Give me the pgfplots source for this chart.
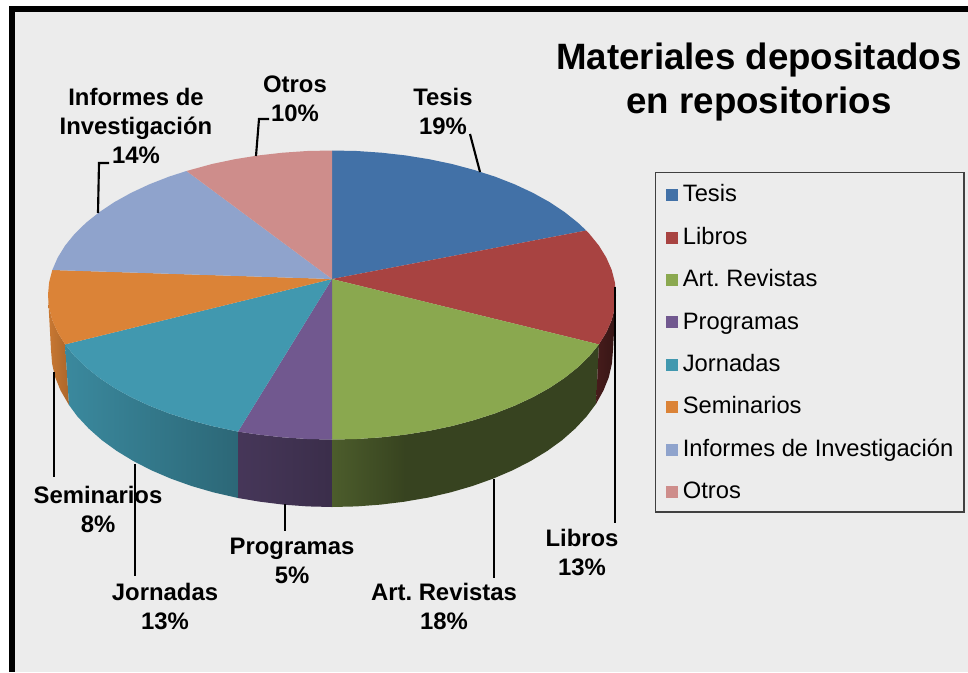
\documentclass[border=0pt]{standalone}
\usepackage{pgfplots}
\pgfplotsset{compat=1.18}
\usepackage{fontspec}
\setmainfont{Liberation Sans}
\frenchspacing
\definecolor{cTesis}{HTML}{4271A7}
\definecolor{cLibros}{HTML}{A84341}
\definecolor{cArt}{HTML}{8AA84F}
\definecolor{cProg}{HTML}{71588F}
\definecolor{cJorn}{HTML}{4198AF}
\definecolor{cSem}{HTML}{DB8337}
\definecolor{cInf}{HTML}{8FA3CC}
\definecolor{cOtros}{HTML}{CE8D8B}
\newcommand{\lab}[2]{\node[align=center,inner sep=0pt,font=\fontsize{17.9}{21.75}\selectfont\bfseries] at (axis cs:#1) {#2};}
\begin{document}
\begin{tikzpicture}
\begin{axis}[
  scale only axis, width=726pt, height=504pt,
  xmin=0, xmax=968, ymin=0, ymax=672, y dir=reverse,
  hide axis,
  legend style={at={(axis cs:655,172)}, anchor=north west, draw=black!75, line width=0.8pt, fill=none,
    inner xsep=8pt, inner ysep=6pt, row sep=11.8pt,
    nodes={font=\fontsize{17.8}{21}\selectfont, inner sep=0pt, anchor=base west, text height=16pt, text depth=4pt}},
  legend cell align=left,
  legend image code/.code={\fill[#1,draw=none] (0pt,0.5pt) rectangle (9pt,9.5pt); \path (12.5pt,0pt);},
]
% page, frame and paper
\addplot[fill=white,draw=none,forget plot] coordinates {(0,0)(968,0)(968,672)(0,672)} --cycle;
\addplot[fill=black,draw=none,forget plot] coordinates {(9,6)(968,6)(968,672)(9,672)} --cycle;
\addplot[fill=black!7.5,draw=none,forget plot] coordinates {(15,12)(968,12)(968,672)(15,672)} --cycle;
% side walls
\addplot[left color=cSem!92!black,right color=cSem!78!black,draw=none,forget plot] coordinates {(65.1,344.4)(57.7,332.4)(52.3,320.1)(49.1,307.6)(48,295)(51,350)(52.1,363.7)(55.2,377.3)(60.6,390.6)(69,405)} --cycle;
\addplot[left color=cJorn!90!black,right color=cJorn!68!black,draw=none,forget plot] coordinates {(65.1,344.4)(74.6,356.1)(86.1,367.3)(99.4,377.9)(114.4,387.9)(131.2,397.2)(149.4,405.7)(169.1,413.4)(190,420.1)(212,426)(238,431.6)(238,498)(213.2,492.3)(191.5,486)(170.8,478.6)(151.4,470.3)(133.3,461)(116.7,450.9)(101.8,440.1)(88.7,428.5)(77.3,416.3)(69,405)} --cycle;
\addplot[left color=cProg!62!black,right color=cProg!52!black,draw=none,forget plot] coordinates {(238,431.6)(258.5,434.6)(282.6,437.3)(307.2,439)(332,439.5)(332,507)(307.5,506.4)(283.2,504.6)(259.3,501.6)(238,498)} --cycle;
\addplot[left color=cArt!55!black,right color=cArt!40!black,draw=none,forget plot] coordinates {(332,439.5)(356.8,439)(381.4,437.3)(405.5,434.6)(405,501.6)(380.8,504.6)(356.5,506.4)(332,507)} --cycle;
\addplot[fill=cArt!40!black,draw=none,forget plot] coordinates {(404.7,434.7)(429.1,430.8)(452,426)(474,420.1)(494.9,413.4)(514.6,405.7)(532.8,397.2)(549.6,387.9)(564.6,377.9)(577.9,367.3)(589.4,356.1)(598.9,344.4)(596.1,403.7)(586.7,416.3)(575.3,428.5)(562.2,440.1)(547.3,450.9)(530.7,461)(512.6,470.3)(493.2,478.6)(472.5,486)(450.8,492.3)(428.1,497.6)(404.7,501.6)} --cycle;
\addplot[left color=cLibros!42!black,right color=cLibros!32!black,draw=none,forget plot] coordinates {(598.9,344.4)(606.3,332.4)(611.7,320.1)(614.9,307.6)(616,295)(613,350)(611.9,363.7)(608.8,377.3)(603.4,390.6)(596.1,403.7)} --cycle;
% top face
\addplot[fill=cTesis,draw=none] coordinates {(332,279)(332,150.5)(356.8,151)(381.4,152.7)(405.5,155.4)(429.1,159.2)(452,164)(474,169.9)(494.9,176.6)(514.6,184.3)(532.8,192.8)(549.6,202.1)(564.6,212.1)(577.9,222.7)(586.2,230.5)} --cycle;
\addlegendentry{Tesis}
\addplot[fill=cLibros,draw=none] coordinates {(332,279)(586.2,230.5)(589.4,233.9)(598.9,245.6)(606.3,257.6)(611.7,269.9)(614.9,282.4)(616,295)(614.9,307.6)(611.7,320.1)(606.3,332.4)(598.9,344.4)} --cycle;
\addlegendentry{Libros}
\addplot[fill=cArt,draw=none] coordinates {(332,279)(598.9,344.4)(589.4,356.1)(577.9,367.3)(564.6,377.9)(549.6,387.9)(532.8,397.2)(514.6,405.7)(494.9,413.4)(474,420.1)(452,426)(429.1,430.8)(405.5,434.6)(381.4,437.3)(356.8,439)(332,439.5)} --cycle;
\addlegendentry{Art. Revistas}
\addplot[fill=cProg,draw=none] coordinates {(332,279)(332,439.5)(307.2,439)(282.6,437.3)(258.5,434.6)(238,431.6)} --cycle;
\addlegendentry{Programas}
\addplot[fill=cJorn,draw=none] coordinates {(332,279)(238,431.6)(212,426)(190,420.1)(169.1,413.4)(149.4,405.7)(131.2,397.2)(114.4,387.9)(99.4,377.9)(86.1,367.3)(74.6,356.1)(65.1,344.4)} --cycle;
\addlegendentry{Jornadas}
\addplot[fill=cSem,draw=none] coordinates {(332,279)(65.1,344.4)(57.7,332.4)(52.3,320.1)(49.1,307.6)(48,295)(49.1,282.4)(52.3,270)} --cycle;
\addlegendentry{Seminarios}
\addplot[fill=cInf,draw=none] coordinates {(332,279)(52.3,270)(57.7,257.6)(65.1,245.6)(74.6,233.9)(86.1,222.7)(99.4,212.1)(114.4,202.1)(131.2,192.8)(149.4,184.3)(169.1,176.6)(186.5,171)} --cycle;
\addlegendentry{Informes de Investigación}
\addplot[fill=cOtros,draw=none] coordinates {(332,279)(186.5,171)(212,164)(234.9,159.2)(258.5,155.4)(282.6,152.7)(307.2,151)(332,150.5)} --cycle;
\addlegendentry{Otros}
% leader lines
\addplot[black,line width=1.6pt,forget plot] coordinates {(256,156)(259,119)(269,119)};
\addplot[black,line width=1.6pt,forget plot] coordinates {(98,213)(99,163)(109,163)};
\addplot[black,line width=1.6pt,forget plot] coordinates {(480,172)(470,134)};
\addplot[black,line width=1.6pt,forget plot] coordinates {(615,287)(615,523)};
\addplot[black,line width=1.6pt,forget plot] coordinates {(494,479)(494,578)};
\addplot[black,line width=1.6pt,forget plot] coordinates {(285,504)(285,531)};
\addplot[black,line width=1.6pt,forget plot] coordinates {(135,464)(135,576)};
\addplot[black,line width=1.6pt,forget plot] coordinates {(54,372)(54,477)};
% labels
\lab{295,99}{Otros\\10\%}
\lab{136,126}{Informes de\\Investigación\\14\%}
\lab{443,111}{Tesis\\19\%}
\lab{582,552}{Libros\\13\%}
\lab{444,606}{Art. Revistas\\18\%}
\lab{292,561}{Programas\\5\%}
\lab{165,606}{Jornadas\\13\%}
\lab{98,509}{Seminarios\\8\%}
\node[align=center,inner sep=0pt,font=\fontsize{27.5}{33}\selectfont\bfseries] at (axis cs:759,82.5) {Materiales depositados\\en repositorios};
\end{axis}
\end{tikzpicture}
\end{document}
